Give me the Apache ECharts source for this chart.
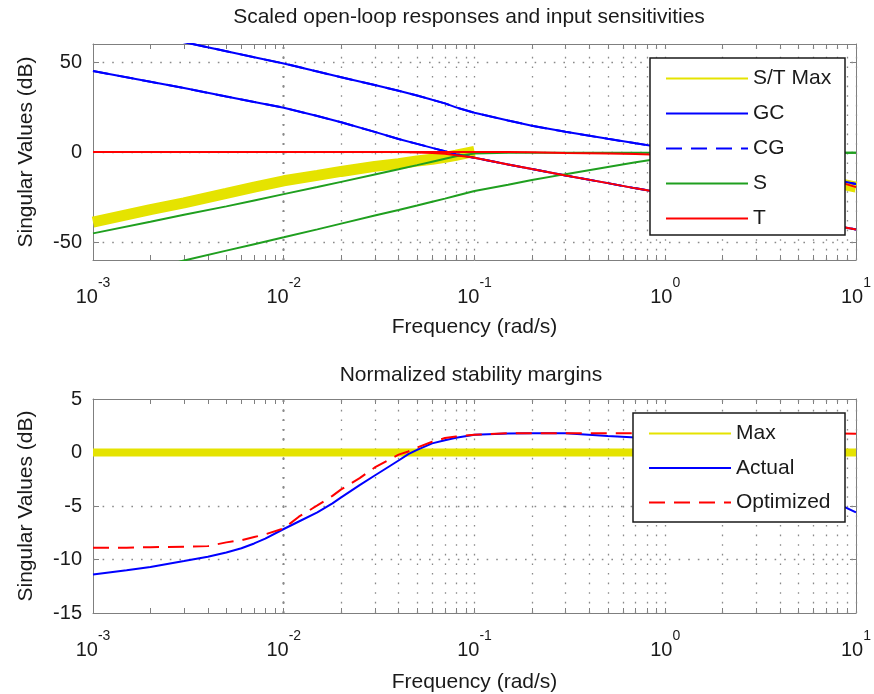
<!DOCTYPE html>
<html><head><meta charset="utf-8">
<script src="https://cdn.jsdelivr.net/npm/echarts@6/dist/echarts.min.js"></script>
<style>html,body{margin:0;padding:0;background:#fff}#c{width:874px;height:694px}</style>
</head><body><div id="c"></div>
<script>
// ---------- data (frequency in rad/s, values in dB) ----------
const freqTop = [0.001, 0.002, 0.003, 0.005, 0.007, 0.01, 0.015, 0.02, 0.03, 0.04, 0.05, 0.06, 0.07, 0.08, 0.1, 0.15, 0.2, 0.3, 0.5, 0.7, 1, 2, 3, 5, 7, 10];
const stMax   = [-39, -32, -28.3, -23, -19.5, -16, -13, -10.8, -8, -6.5, -5, -4, -3, -1.8, 0.3, null, null, null, null, null, 0, -5, -8.5, -13, -16, -19.5];
const gcUpper = [72, 65, 61, 56, 52.6, 49.2, 44.7, 41.5, 37.2, 34, 31.4, 29, 27, 24.8, 21.8, 17.5, 14.6, 11.2, 7.3, 4.8, 2.2, -3.5, -7, -11.5, -14.5, -17.8];
const gcLower = [45, 39, 35.5, 30.8, 27.8, 24.6, 20, 16.5, 11.2, 7.2, 4.5, 2.3, 0.4, -1.2, -3.2, -6.9, -9.5, -13, -17.3, -20.2, -23, -29, -32.5, -37, -40, -43];
const cgUpper = [72, 65, 61, 56, 52.6, 49.2, 44.7, 41.5, 37.2, 34, 31.4, 29, 27, 24.8, 21.8, 17.5, 14.6, 11.2, 7.3, 4.8, 2.2, -3.5, -7, -11.5, -14.5, -17.8];
const cgLower = [45, 39, 35.5, 30.8, 27.8, 24.6, 20, 16.5, 11.2, 7.2, 4.5, 2.3, 0.4, -1.2, -3.2, -6.9, -9.5, -13, -17.3, -20.2, -23, -29, -32.5, -37, -40, -43];
const sUpper  = [-45.2, -38.8, -34.9, -30.2, -26.9, -23.4, -19.5, -16.6, -12.5, -9.6, -7.3, -5.4, -3.8, -2.4, -0.8, -0.4, -0.4, -0.4, -0.4, -0.4, -0.4, -0.4, -0.4, -0.4, -0.4, -0.4];
const sLower  = [-72.5, -65, -60.3, -54.8, -51.2, -47.4, -43, -39.8, -35.3, -32.2, -29.7, -27.6, -25.9, -24.3, -21.7, -18.2, -15.6, -12.3, -8.3, -5.7, -3.2, -0.8, -0.4, -0.4, -0.4, -0.4];
const tUpper  = [0, 0, 0, 0, 0, 0, 0, 0, 0, 0, 0, 0, 0, 0, 0, 0, -0.2, -0.5, -0.8, -1.1, -1.6, -3.5, -6, -10.5, -14.5, -19.5];
const tLower  = [0, 0, 0, 0, 0, 0, 0, 0, 0, 0, -0.3, -0.6, -1.0, -1.8, -3.2, -6.9, -9.5, -13, -17.3, -20.2, -23, -29, -32.5, -37, -40, -43];

const freqBot = [0.001, 0.0015, 0.002, 0.003, 0.004, 0.005, 0.006, 0.007, 0.008, 0.01, 0.012, 0.015, 0.018, 0.02, 0.025, 0.03, 0.035, 0.04, 0.045, 0.05, 0.06, 0.07, 0.08, 0.1, 0.15, 0.2, 0.3, 0.5, 0.7, 1, 2, 3, 5, 7, 10];
const actual    = [-11.4, -11.0, -10.7, -10.15, -9.75, -9.35, -8.95, -8.5, -8.05, -7.15, -6.45, -5.6, -4.75, -4.2, -3.05, -2.15, -1.4, -0.75, -0.15, 0.25, 0.85, 1.15, 1.37, 1.65, 1.78, 1.8, 1.8, 1.55, 1.4, 1.1, 0.0, -1.0, -2.8, -4.3, -5.6];
const optimized = [-8.9, -8.9, -8.85, -8.8, -8.75, -8.4, -8.2, -7.9, -7.65, -7.1, -6.0, -4.95, -4.05, -3.45, -2.4, -1.4, -0.75, -0.2, 0.1, 0.46, 1.0, 1.35, 1.5, 1.65, 1.8, 1.8, 1.8, 1.8, 1.8, 1.8, 1.8, 1.8, 1.8, 1.78, 1.75];
const freqMax = [0.001, 10];
const maxBound = [0, 0];

const decadeTicks = [0.001, 0.01, 0.1, 1, 10];
const yTicksTop = [-50, 0, 50];
const yTicksBot = [-15, -10, -5, 0, 5];

// ---------- helpers ----------
const FONT = 'Liberation Sans, Arial, Helvetica, sans-serif';
const TXT = '#1a1a1a';
const AX = '#7f7f7f';
const minorTicks = [];
for (let e = -3; e <= 0; e++) for (let m = 1; m <= 9; m++) minorTicks.push(+(m * Math.pow(10, e)).toPrecision(3));
minorTicks.push(10);

const pairs = (xs, ys) => xs.map((x, i) => [x, ys[i]]);

function gridMarks(hLines) {
  const data = minorTicks.map(v => ({ xAxis: v })).concat(hLines.map(v => ({ yAxis: v })));
  return {
    silent: true, symbol: ['none', 'none'], label: { show: false }, animation: false,
    lineStyle: { color: '#8a8a8a', width: 1.3, type: [1.6, 8] },
    emphasis: { disabled: true },
    data: data
  };
}

function xAxisDef(gridIndex, pos, showLabels, name, nameGap) {
  return {
    type: 'log', logBase: 10, gridIndex: gridIndex, position: pos, min: 0.001, max: 10,
    name: name || '', nameLocation: 'middle', nameGap: nameGap || 0,
    nameTextStyle: { fontSize: 21, color: TXT, fontFamily: FONT },
    axisLine: { show: true, onZero: false, lineStyle: { color: AX, width: 1 } },
    axisTick: { show: true, inside: true, length: 5, customValues: minorTicks, lineStyle: { color: AX } },
    splitLine: { show: false },
    minorTick: { show: false },
    axisLabel: {
      show: showLabels, margin: 16, customValues: decadeTicks,
      formatter: v => '{b|10}{s|' + Math.round(Math.log10(v)) + '}',
      rich: {
        b: { fontSize: 20, fontFamily: FONT, color: TXT, padding: [11, 0, 0, 0] },
        s: { fontSize: 14, fontFamily: FONT, color: TXT, verticalAlign: 'top' }
      }
    }
  };
}

function yAxisDef(gridIndex, pos, showLabels, min, max, ticks, name) {
  return {
    type: 'value', gridIndex: gridIndex, position: pos, min: min, max: max,
    name: name || '', nameLocation: 'middle', nameGap: 56,
    nameTextStyle: { fontSize: 21, color: TXT, fontFamily: FONT },
    axisLine: { show: true, onZero: false, lineStyle: { color: AX, width: 1 } },
    axisTick: { show: true, inside: true, length: 6, customValues: ticks, lineStyle: { color: AX } },
    splitLine: { show: false },
    axisLabel: { show: showLabels, customValues: ticks, margin: 11, fontSize: 20, fontFamily: FONT, color: TXT }
  };
}

function lineSeries(name, xi, yi, data, color, width, dashed, z) {
  return {
    name: name, type: 'line', xAxisIndex: xi, yAxisIndex: yi, data: data,
    symbol: 'none', showSymbol: false, animation: false, clip: true, z: z || 10,
    lineStyle: { color: color, width: width, type: dashed ? [16, 9] : 'solid' },
    itemStyle: { color: color },
    emphasis: { disabled: true }
  };
}

const YEL = '#e5e300', BLU = '#0000ff', GRN = '#1f9f1f', RED = '#ff0000';

const option = {
  backgroundColor: '#ffffff',
  animation: false,
  grid: [
    { left: 93, top: 44, width: 763, height: 216 },
    { left: 93, top: 399, width: 763, height: 216 }
  ],
  xAxis: [
    xAxisDef(0, 'bottom', true, 'Frequency (rad/s)', 57),
    xAxisDef(0, 'top', false),
    xAxisDef(1, 'bottom', true, 'Frequency (rad/s)', 59),
    xAxisDef(1, 'top', false)
  ],
  yAxis: [
    yAxisDef(0, 'left', true, -60, 60, yTicksTop, 'Singular Values (dB)'),
    yAxisDef(0, 'right', false, -60, 60, yTicksTop),
    yAxisDef(1, 'left', true, -15, 5, yTicksBot, 'Singular Values (dB)'),
    yAxisDef(1, 'right', false, -15, 5, yTicksBot)
  ],
  legend: [
    {
      data: ['S/T Max', 'GC', 'CG', 'S', 'T'], orient: 'vertical', left: 665, top: 68, padding: 0,
      itemWidth: 82, itemHeight: 14, itemGap: 14, selectedMode: false, z: 30,
      lineStyle: { width: 2 }, itemStyle: { opacity: 0, borderWidth: 0 },
      textStyle: { fontSize: 21, fontFamily: FONT, color: TXT, lineHeight: 20 }
    },
    {
      data: ['Max', 'Actual', 'Optimized'], orient: 'vertical', left: 648, top: 423, padding: 0,
      itemWidth: 82, itemHeight: 14, itemGap: 13.5, selectedMode: false, z: 30,
      lineStyle: { width: 2 }, itemStyle: { opacity: 0, borderWidth: 0 },
      textStyle: { fontSize: 21, fontFamily: FONT, color: TXT, lineHeight: 20 }
    }
  ],
  graphic: [
    { type: 'text', x: 469, y: 17, z: 40, style: { text: 'Scaled open-loop responses and input sensitivities', fill: TXT, font: '21px ' + FONT, align: 'center', verticalAlign: 'middle', textAlign: 'center', textVerticalAlign: 'middle' } },
    { type: 'text', x: 471, y: 375, z: 40, style: { text: 'Normalized stability margins', fill: TXT, font: '21px ' + FONT, align: 'center', verticalAlign: 'middle', textAlign: 'center', textVerticalAlign: 'middle' } },
    { type: 'rect', z: 20, shape: { x: 650, y: 58, width: 195, height: 177 }, style: { fill: '#ffffff', stroke: '#1a1a1a', lineWidth: 1.5 } },
    { type: 'rect', z: 20, shape: { x: 633, y: 413, width: 212, height: 109 }, style: { fill: '#ffffff', stroke: '#1a1a1a', lineWidth: 1.5 } }
  ],
  series: [
    Object.assign(lineSeries('gridTop', 0, 0, [], '#000', 0, false, 1), { markLine: gridMarks([-50, 0, 50]) }),
    Object.assign(lineSeries('gridBot', 2, 2, [], '#000', 0, false, 1), { markLine: gridMarks([-10, -5, 0]) }),
    lineSeries('S/T Max', 0, 0, pairs(freqTop, stMax), YEL, 11, false, 10),
    lineSeries('GC', 0, 0, pairs(freqTop, gcUpper), BLU, 2, false, 11),
    lineSeries('GC', 0, 0, pairs(freqTop, gcLower), BLU, 2, false, 11),
    lineSeries('CG', 0, 0, pairs(freqTop, cgUpper), BLU, 2, true, 12),
    lineSeries('CG', 0, 0, pairs(freqTop, cgLower), BLU, 2, true, 12),
    lineSeries('S', 0, 0, pairs(freqTop, sUpper), GRN, 2, false, 13),
    lineSeries('S', 0, 0, pairs(freqTop, sLower), GRN, 2, false, 13),
    lineSeries('T', 0, 0, pairs(freqTop, tUpper), RED, 2, false, 14),
    lineSeries('T', 0, 0, pairs(freqTop, tLower), RED, 2, false, 14),
    lineSeries('Max', 2, 2, pairs(freqMax, maxBound), YEL, 8, false, 10),
    lineSeries('Actual', 2, 2, pairs(freqBot, actual), BLU, 2, false, 11),
    lineSeries('Optimized', 2, 2, pairs(freqBot, optimized), RED, 2, true, 12)
  ]
};

const chart = echarts.init(document.getElementById('c'), null, { renderer: 'canvas' });
chart.setOption(option);
</script>
</body></html>
